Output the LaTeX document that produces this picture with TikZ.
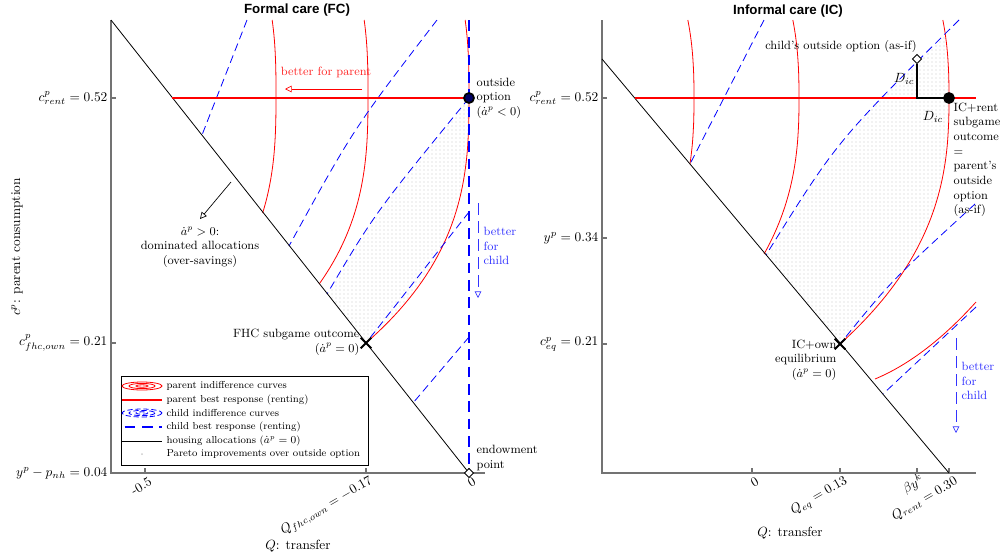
\documentclass[tikz,border=0pt]{standalone}
\usepackage{fontspec}
\newfontfamily\titlefont{Liberation Sans}
\usetikzlibrary{arrows.meta, shapes.geometric, shapes.misc, patterns}

\begin{document}
\begin{tikzpicture}[
    x=0.75pt, y=-0.75pt,
    axisline/.style={draw=black!55, line width=0.8pt},
    redcurve/.style={draw=red, line width=0.6pt},
    bluecurve/.style={draw=blue, line width=0.6pt, dash pattern=on 6pt off 3.5pt},
    bestparent/.style={draw=red, line width=2pt},
    bestchild/.style={draw=blue, line width=2.2pt, dash pattern=on 8pt off 5pt},
    housing/.style={draw=black, line width=0.6pt},
    pareto/.style={pattern=dots, pattern color=gray!45},
    note/.style={font=\small, align=left, inner sep=1pt},
    ylab/.style={anchor=east, inner sep=1pt},
    xlab/.style={anchor=east, rotate=30, inner sep=1pt},
    arrow/.style={-{Triangle[open, length=5pt, width=5pt]}, line width=0.5pt},
    childarrow/.style={arrow, draw=blue!80, dash pattern=on 9pt off 4.5pt},
    crossmark/.style={cross out, draw=black, line width=1.5pt, minimum size=6.5pt, inner sep=0pt},
    diamondmark/.style={diamond, draw=black, line width=0.6pt, fill=white, minimum size=7pt, inner sep=0pt},
    optdot/.style={circle, draw=black, line width=1.3pt, minimum size=7.5pt, inner sep=0pt},
    legtext/.style={font=\fontsize{7.6}{9}\selectfont, anchor=west, inner sep=1pt},
    paneltitle/.style={font=\titlefont\bfseries}
  ]
    \useasboundingbox (0,0) rectangle (1000,558);

    \node[paneltitle] (fctitle) at (297,10) {Formal care (FC)};
    \node[paneltitle] (ictitle) at (788,11) {Informal care (IC)};

    % formal care panel
    \begin{scope}
      \clip (469,98) .. controls (375,213) .. (327,294) -- (366,343) -- (480,343) -- (480,98) -- cycle;
      \fill[pareto] plot[domain=98:343, samples=40] ({469-103*((abs(\x-95)+0.01)/248)^2.75}, \x)
        -- (100,343) -- (100,98) -- cycle;
    \end{scope}

    \draw[redcurve] plot[domain=20:213, samples=40] ({276-103*((abs(\x-95)+0.01)/248)^2.75}, \x);
    \draw[redcurve] plot[domain=20:284, samples=50] ({368-103*((abs(\x-95)+0.01)/248)^2.75}, \x);
    \draw[redcurve] plot[domain=20:343, samples=60] ({469-103*((abs(\x-95)+0.01)/248)^2.75}, \x);

    \draw[bluecurve] (247,20) -- (202,135);
    \draw[bluecurve] (437,20) .. controls (354,128) .. (289,246);
    \draw[bluecurve] (469,98) .. controls (375,213) .. (327,294);
    \draw[bluecurve] (469,212) -- (366,343);
    \draw[bluecurve] (469,337) -- (413,403);

    \draw[axisline] (111,20) -- (111,473) -- (485,473);
    \draw[axisline] (111,98) -- ++(5,0);
    \draw[axisline] (111,343) -- ++(5,0);
    \draw[axisline] (145,473) -- ++(0,-5);
    \draw[axisline] (366,473) -- ++(0,-5);
    \draw[axisline] (469,473) -- ++(0,-5);

    \coordinate (fctop) at (111,20);
    \coordinate (fcendowc) at (469,473);
    \coordinate (fcrentl) at (172,98);
    \coordinate (fcoptc) at (469,98);
    \coordinate (fcvtop) at (469,20);
    \draw[housing] (fctop) -- (fcendowc);
    \draw[bestparent] (fcrentl) -- (fcoptc);
    \draw[bestchild] (fcvtop) -- (fcendowc);

    \node[crossmark] (fhc) at (366,343) {};
    \node[optdot, fill=blue!40!black] (fcopt) at (fcoptc) {};
    \node[diamondmark] (fcendow) at (fcendowc) {};

    \node[ylab] (fcyrent) at (109,98) {$c^p_{rent} = 0.52$};
    \node[ylab] (fcyown) at (109,343) {$c^p_{fhc,own} = 0.21$};
    \node[ylab] (fcybase) at (109,473) {$y^p - p_{nh} = 0.04$};
    \node[xlab] (fcxhalf) at (152,480) {-0.5};
    \node[xlab] (fcxown) at (373,480) {$Q_{fhc,own} = -0.17$};
    \node[xlab] (fcxzero) at (476,480) {0};
    \node[rotate=90] (fcylabel) at (17,247) {$c^p$: parent consumption};
    \node (fcxlabel) at (298,546) {$Q$: transfer};

    \node[note, red!85] (bparent) at (326,72) {better for parent};
    \coordinate (bpstart) at (362,89);
    \coordinate (bpend) at (285,89);
    \draw[arrow, red] (bpstart) -- (bpend);

    \coordinate (domstart) at (231,182);
    \coordinate (domend) at (200,219);
    \draw[arrow] (domstart) -- (domend);
    \node[note, align=center] (domlab) at (200,247) {$\dot{a}^p > 0$:\\dominated allocations\\(over-savings)};

    \coordinate (bcstart) at (478,203);
    \coordinate (bcend) at (478,298);
    \draw[childarrow] (bcstart) -- (bcend);
    \node[note, blue!80, anchor=west] (bchild) at (482,246) {better\\for\\child};

    \node[note, anchor=west] (fcoptlab) at (475,98) {outside\\option\\($\dot{a}^p < 0$)};
    \node[note, align=right, anchor=east] (fhclab) at (361,342) {FHC subgame outcome\\($\dot{a}^p = 0$)};
    \node[note, anchor=west] (endowlab) at (475,458) {endowment\\point};

    % legend
    \draw[black, line width=0.5pt, fill=white] (121,376) rectangle (368,465);
    \draw[redcurve] (142,386) ellipse [x radius=20, y radius=4];
    \draw[redcurve] (142,386) ellipse [x radius=13, y radius=2.6];
    \draw[redcurve] (142,386) ellipse [x radius=6, y radius=1.2];
    \draw[bestparent] (122,400) -- (162,400);
    \draw[bluecurve, dash pattern=on 4pt off 2pt] (142,413) ellipse [x radius=20, y radius=4];
    \draw[bluecurve, dash pattern=on 4pt off 2pt] (142,413) ellipse [x radius=13, y radius=2.6];
    \draw[bluecurve, dash pattern=on 4pt off 2pt] (142,413) ellipse [x radius=6, y radius=1.2];
    \draw[bestchild, dash pattern=on 8pt off 5pt, dash phase=-2pt] (122,427) -- (162,427);
    \draw[housing] (122,441) -- (162,441);
    \fill[gray!40] (142,454) circle [radius=1];
    \node[legtext] (leg1) at (165,386) {parent indifference curves};
    \node[legtext] (leg2) at (165,400) {parent best response (renting)};
    \node[legtext] (leg3) at (165,413) {child indifference curves};
    \node[legtext] (leg4) at (165,427) {child best response (renting)};
    \node[legtext] (leg5) at (165,441) {housing allocations ($\dot{a}^p = 0$)};
    \node[legtext] (leg6) at (165,454) {Pareto improvements over outside option};

    % informal care panel
    \begin{scope}
      \clip (959,20) .. controls (837,141) .. (766,255) -- (840,344) -- (1000,344) -- (1000,10) -- (959,10) -- cycle;
      \fill[pareto] plot[domain=20:344, samples=50] ({949-109*((abs(\x-98)+0.01)/246)^2.5}, \x)
        -- (602,59) -- (602,20) -- cycle;
    \end{scope}

    \draw[redcurve] plot[domain=20:164, samples=30] ({694-109*((abs(\x-98)+0.01)/246)^2.5}, \x);
    \draw[redcurve] plot[domain=20:254, samples=45] ({799-109*((abs(\x-98)+0.01)/246)^2.5}, \x);
    \draw[redcurve] plot[domain=20:344, samples=60] ({949-109*((abs(\x-98)+0.01)/246)^2.5}, \x);
    \draw[redcurve] plot[domain=875:976, samples=30] (\x, {379-0.417*(\x-875)-0.00342*(\x-875)^2});

    \draw[bluecurve] (764,20) -- (690,164);
    \draw[bluecurve] (959,20) .. controls (837,141) .. (766,255);
    \draw[bluecurve] (975,204) .. controls (891,281) .. (840,344);
    \draw[bluecurve] (976,307) -- (883,394);

    \draw[axisline] (602,20) -- (602,473) -- (976,473);
    \draw[axisline] (602,98) -- ++(5,0);
    \draw[axisline] (602,238) -- ++(5,0);
    \draw[axisline] (602,344) -- ++(5,0);
    \draw[axisline] (752,473) -- ++(0,-5);
    \draw[axisline] (840,473) -- ++(0,-5);
    \draw[axisline] (917,473) -- ++(0,-5);
    \draw[axisline] (949,473) -- ++(0,-5);

    \coordinate (ictop) at (602,59);
    \coordinate (icend) at (949,473);
    \coordinate (icrentl) at (635,98);
    \coordinate (icrentr) at (976,98);
    \coordinate (icoptc) at (949,98);
    \coordinate (dcorner) at (917,98);
    \draw[housing] (ictop) -- (icend);
    \draw[bestparent] (icrentl) -- (icrentr);

    \node[diamondmark] (childopt) at (917,59) {};
    \draw[housing, line width=0.8pt] (childopt) -- (dcorner) -- (icoptc);
    \node[crossmark] (iceq) at (840,344) {};
    \node[optdot, fill=black] (icopt) at (icoptc) {};

    \node[ylab] (icyrent) at (600,98) {$c^p_{rent} = 0.52$};
    \node[ylab] (icyinc) at (600,238) {$y^p = 0.34$};
    \node[ylab] (icyeq) at (600,344) {$c^p_{eq} = 0.21$};
    \node[xlab] (icxzero) at (759,480) {0};
    \node[xlab] (icxeq) at (848,480) {$Q_{eq} = 0.13$};
    \node[xlab] (icxbeta) at (924,478) {$\beta y^k$};
    \node[xlab] (icxrent) at (958,480) {$Q_{rent} = 0.30$};
    \node (icxlabel) at (790,533) {$Q$: transfer};

    \node[note] (coptlab) at (841,46) {child's outside option (as-if)};
    \node[note, font=\normalsize, anchor=east] (dvert) at (916,79) {$D_{ic}$};
    \node[note, font=\normalsize] (dhoriz) at (933,117) {$D_{ic}$};
    \node[note, anchor=north west] (icrentlab) at (952,101) {IC+rent\\subgame\\outcome\\=\\parent's\\outside\\option\\(as-if)};
    \node[note, align=right, anchor=north east] (iceqlab) at (838,338) {IC+own\\equilibrium\\($\dot{a}^p = 0$)};

    \coordinate (bc2start) at (956,338);
    \coordinate (bc2end) at (956,433);
    \draw[childarrow] (bc2start) -- (bc2end);
    \node[note, blue!80, anchor=west] (bchild2) at (960,381) {better\\for\\child};
  \end{tikzpicture}
\end{document}
